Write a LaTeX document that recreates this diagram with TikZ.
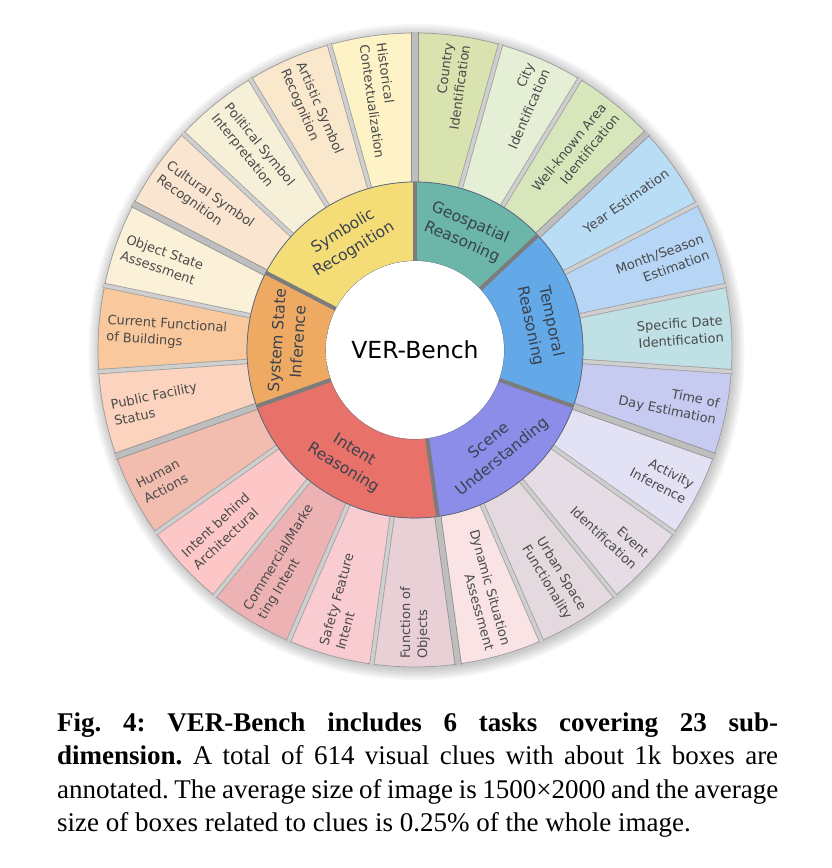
\documentclass[tikz,border=0pt]{standalone}
\usepackage{fontspec}
\setmainfont{Liberation Serif}
\newfontfamily\labfont{DejaVu Sans}
\usetikzlibrary{calc}
\definecolor{cO0}{HTML}{FDF3C6}
\definecolor{cO1}{HTML}{FAE8CD}
\definecolor{cO2}{HTML}{F7F0D9}
\definecolor{cO3}{HTML}{FAE5D1}
\definecolor{cO4}{HTML}{FBF0D8}
\definecolor{cO5}{HTML}{F9C89C}
\definecolor{cO6}{HTML}{FCD3BE}
\definecolor{cO7}{HTML}{F2BCAF}
\definecolor{cO8}{HTML}{FCC7C6}
\definecolor{cO9}{HTML}{EDB3B4}
\definecolor{cO10}{HTML}{F9CCD2}
\definecolor{cO11}{HTML}{E9D0D6}
\definecolor{cO12}{HTML}{F9E3E5}
\definecolor{cO13}{HTML}{E5D9E0}
\definecolor{cO14}{HTML}{E5DCE5}
\definecolor{cO15}{HTML}{E3E1F4}
\definecolor{cO16}{HTML}{C7CAF1}
\definecolor{cO17}{HTML}{BFE0E5}
\definecolor{cO18}{HTML}{B7D5F5}
\definecolor{cO19}{HTML}{BADDF6}
\definecolor{cO20}{HTML}{D8E6BC}
\definecolor{cO21}{HTML}{E5EFD5}
\definecolor{cO22}{HTML}{D9E3AF}
\definecolor{cSym}{HTML}{F4DD77}
\definecolor{cSys}{HTML}{EEAA63}
\definecolor{cInt}{HTML}{E8716A}
\definecolor{cSce}{HTML}{8B8DE8}
\definecolor{cTem}{HTML}{63A9E7}
\definecolor{cGeo}{HTML}{6BB6A8}
\definecolor{outtxt}{HTML}{4A4A4A}
\definecolor{intxt}{HTML}{3A4250}
\definecolor{segedge}{HTML}{9A9A9A}
\definecolor{isegedge}{HTML}{56627A}
\definecolor{gapfill}{HTML}{CFCFCF}
\definecolor{gapedge}{HTML}{A0A0A0}
\definecolor{igap}{HTML}{7C7C7C}
\pgfdeclareradialshading{centreglow}{\pgfpoint{0bp}{0bp}}{color(0bp)=(white); color(41bp)=(white); color(46bp)=(black!7); color(50bp)=(black!30); color(70bp)=(black!30)}
\tikzset{
  outerlab/.style={font=\labfont\fontsize{13}{17}\selectfont, text=outtxt, inner sep=0pt},
  innerlab/.style={font=\labfont\fontsize{15.5}{21}\selectfont, text=intxt, align=center, inner sep=0pt},
  seg/.style={draw=segedge, line width=0.7pt},
  iseg/.style={draw=isegedge, line width=0.7pt},
  gapline/.style={draw=gapedge, line width=0.8pt, double=gapfill, double distance=3.6pt},
  taskgap/.style={draw=gapedge!90!black, line width=0.8pt, double=gapfill!92!black, double distance=5.5pt},
  innergap/.style={draw=igap, line width=4pt},
  captext/.style={font=\frenchspacing\fontsize{27}{33}\selectfont, inner sep=0pt, anchor=base west},
}
\newcommand\OuterSeg[4]{%
  \pgfmathsetmacro\sa{90+#1*360/23}%
  \pgfmathsetmacro\sb{90+(#1+1)*360/23}%
  \pgfmathsetmacro\sm{90+(#1+0.5)*360/23}%
  \path[seg, fill=#2] ($(C)+(\sa:168pt)$) arc[start angle=\sa, end angle=\sb, radius=168pt]
     -- ($(C)+(\sb:317pt)$) arc[start angle=\sb, end angle=\sa, radius=317pt] -- cycle;
  \ifnum#1<12
    \node[outerlab, rotate=\sm+180, anchor=west, align=left] (#3) at ($(C)+(\sm:309pt)$) {#4};
  \else
    \node[outerlab, rotate=\sm, anchor=east, align=right] (#3) at ($(C)+(\sm:309pt)$) {#4};
  \fi
}
\newcommand\InnerSeg[6]{%
  \pgfmathsetmacro\sa{90+#1*360/23}%
  \pgfmathsetmacro\sb{90+#2*360/23}%
  \pgfmathsetmacro\sm{(\sa+\sb)/2}%
  \path[iseg, fill=#3] ($(C)+(\sa:89pt)$) arc[start angle=\sa, end angle=\sb, radius=89pt]
     -- ($(C)+(\sb:168pt)$) arc[start angle=\sb, end angle=\sa, radius=168pt] -- cycle;
  \node[innerlab, rotate={\sm#6}] (#4) at ($(C)+(\sm:128pt)$) {#5};
}
\begin{document}
\begin{tikzpicture}[x=1pt, y=1pt]
\useasboundingbox (0,0) rectangle (832,868);
\fill[white] (0,0) rectangle (832,868);
\coordinate (C) at (415,518);
% soft shadow
\foreach \r in {318pt,320pt,322pt,324pt,326pt,328pt}
  \fill[black, opacity=0.035] ($(C)+(1.5,-2)$) circle[radius=\r];
% outer ring
\OuterSeg{0}{cO0}{hist}{Historical\\Contextualization}
\OuterSeg{1}{cO1}{arts}{Artistic Symbol\\Recognition}
\OuterSeg{2}{cO2}{poli}{Political Symbol\\Interpretation}
\OuterSeg{3}{cO3}{cult}{Cultural Symbol\\Recognition}
\OuterSeg{4}{cO4}{objs}{Object State\\Assessment}
\OuterSeg{5}{cO5}{curf}{Current Functional\\of Buildings}
\OuterSeg{6}{cO6}{pubf}{Public Facility\\Status}
\OuterSeg{7}{cO7}{huma}{Human\\Actions}
\OuterSeg{8}{cO8}{inta}{Intent behind\\Architectural}
\OuterSeg{9}{cO9}{comm}{Commercial/Marke\\ting Intent}
\OuterSeg{10}{cO10}{safe}{Safety Feature\\Intent}
\OuterSeg{11}{cO11}{func}{Function of\\Objects}
\OuterSeg{12}{cO12}{dyna}{Dynamic Situation\\Assessment}
\OuterSeg{13}{cO13}{urba}{Urban Space\\Functionality}
\OuterSeg{14}{cO14}{even}{Event\\Identification}
\OuterSeg{15}{cO15}{acti}{Activity\\Inference}
\OuterSeg{16}{cO16}{tday}{Time of\\Day Estimation}
\OuterSeg{17}{cO17}{spec}{Specific Date\\Identification}
\OuterSeg{18}{cO18}{mont}{Month/Season\\Estimation}
\OuterSeg{19}{cO19}{year}{Year Estimation}
\OuterSeg{20}{cO20}{well}{Well-known Area\\Identification}
\OuterSeg{21}{cO21}{city}{City\\Identification}
\OuterSeg{22}{cO22}{coun}{Country\\Identification}
% gaps in outer ring
\foreach \k in {1,2,3,5,6,8,9,10,11,13,14,15,17,18,19,21,22}{
  \pgfmathsetmacro\ga{90+\k*360/23}
  \draw[gapline] ($(C)+(\ga:167pt)$) -- ($(C)+(\ga:318pt)$);
}
\foreach \k in {0,4,7,12,16,20}{
  \pgfmathsetmacro\ga{90+\k*360/23}
  \draw[taskgap] ($(C)+(\ga:167pt)$) -- ($(C)+(\ga:318pt)$);
}
% inner ring
\InnerSeg{0}{4}{cSym}{symb}{Symbolic\\Recognition}{-90}
\InnerSeg{4}{7}{cSys}{syst}{System State\\Inference}{-90}
\InnerSeg{7}{12}{cInt}{intr}{Intent\\Reasoning}{+90}
\InnerSeg{12}{16}{cSce}{scen}{Scene\\Understanding}{+90}
\InnerSeg{16}{20}{cTem}{temp}{Temporal\\Reasoning}{-90}
\InnerSeg{20}{23}{cGeo}{geos}{Geospatial\\Reasoning}{-90}
\foreach \k in {0,4,7,12,16,20}{
  \pgfmathsetmacro\ga{90+\k*360/23}
  \draw[innergap] ($(C)+(\ga:88pt)$) -- ($(C)+(\ga:168pt)$);
}
% centre
\shade[shading=centreglow] (C) circle[radius=89pt];
\node[font=\labfont\fontsize{23.5}{28}\selectfont, text=black, inner sep=0pt] (centre) at (C) {VER-Bench};
% caption
\node[captext] (cap1) at (57,136) {\makebox[721pt][s]{\bfseries Fig. 4: VER-Bench includes 6 tasks covering 23 sub-}};
\node[captext] (cap2) at (57,103) {\makebox[721pt][s]{\textbf{dimension.} A total of 614 visual clues with about 1k boxes are}};
\node[captext] (cap3) at (57,69) {\makebox[721pt][s]{annotated. The average size of image is 1500×2000 and the average}};
\node[captext] (cap4) at (57,36) {size of boxes related to clues is 0.25\% of the whole image.};
\end{tikzpicture}
\end{document}
